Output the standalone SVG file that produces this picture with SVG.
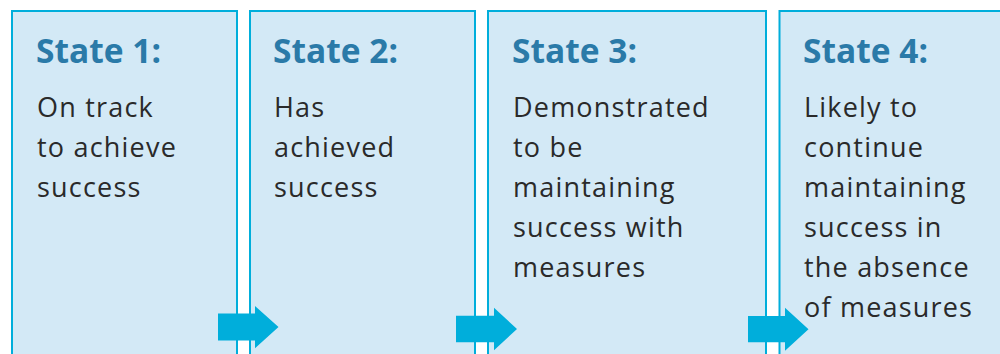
<svg xmlns="http://www.w3.org/2000/svg" width="1000" height="354" viewBox="0 0 1000 354">
<style>
.box{fill:#d3e9f6;stroke:#00aedb;stroke-width:2}
.title{font-family:"Open Sans","Liberation Sans",sans-serif;font-weight:700;font-size:33.5px;fill:#2a7aa8}
.body{font-family:"Open Sans","Liberation Sans",sans-serif;font-weight:400;font-size:27px;fill:#2a2a2a;letter-spacing:1.2px}
.arrow{fill:#00aedb}
</style>
<rect width="1000" height="354" fill="#ffffff"/>
<g id="state1">
<rect class="box" x="12" y="11" width="225" height="360"/>
<text class="title" x="36" y="63">State 1:</text>
<text class="body" x="37" y="117">On track</text>
<text class="body" x="37" y="157">to achieve</text>
<text class="body" x="37" y="197">success</text>
</g>
<g id="state2">
<rect class="box" x="250" y="11" width="225" height="360"/>
<text class="title" x="273" y="63">State 2:</text>
<text class="body" x="274" y="117">Has</text>
<text class="body" x="274" y="157">achieved</text>
<text class="body" x="274" y="197">success</text>
</g>
<g id="state3">
<rect class="box" x="488" y="11" width="278" height="360"/>
<text class="title" x="512" y="63">State 3:</text>
<text class="body" x="513" y="117">Demonstrated</text>
<text class="body" x="513" y="157">to be</text>
<text class="body" x="513" y="197">maintaining</text>
<text class="body" x="513" y="237">success with</text>
<text class="body" x="513" y="277">measures</text>
</g>
<g id="state4">
<rect class="box" x="779.5" y="11" width="240" height="360"/>
<text class="title" x="803" y="63">State 4:</text>
<text class="body" x="804" y="117">Likely to</text>
<text class="body" x="804" y="157">continue</text>
<text class="body" x="804" y="197">maintaining</text>
<text class="body" x="804" y="237">success in</text>
<text class="body" x="804" y="277">the absence</text>
<text class="body" x="804" y="317">of measures</text>
</g>
<g id="connectors">
<polygon class="arrow" points="218,313.5 255,313.5 255,306 278.5,327 255,348.3 255,340.5 218,340.5"/>
<polygon class="arrow" points="456,315.7 494,315.7 494,307.7 517,329 494,350.3 494,342.3 456,342.3"/>
<polygon class="arrow" points="748,316 785,316 785,307.7 808.5,329.2 785,350.7 785,342.3 748,342.3"/>
</g>
</svg>
